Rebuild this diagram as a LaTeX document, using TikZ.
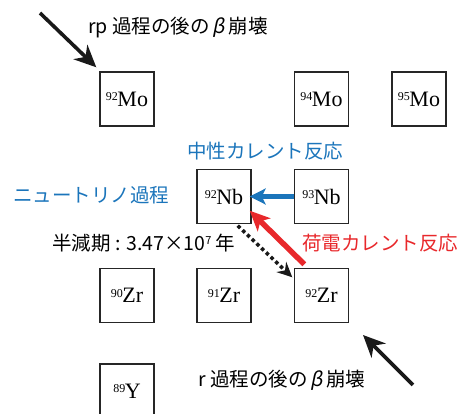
\documentclass[tikz,border=0pt]{standalone}
\usepackage{fontspec}
\setmainfont{Noto Sans CJK JP}
\newfontfamily\elfont{Liberation Serif}
\newfontfamily\betafont[FakeSlant=0.2]{Noto Sans CJK JP}
\usetikzlibrary{arrows.meta}
\definecolor{nublue}{HTML}{1B75BB}
\definecolor{nured}{HTML}{E8282B}
\tikzset{
  nuc/.style={draw=black!85, line width=1.4pt, minimum width=54pt, minimum height=54pt, inner sep=0pt, font=\elfont\fontsize{22}{22}\selectfont},
  lbl/.style={font=\fontsize{19.5}{20}\selectfont, inner sep=0pt},
  bigarrow/.style={line width=3.6pt, -{Stealth[length=22pt,width=20pt,inset=7pt]}},
}
\newcommand{\iso}[2]{\raisebox{0.55ex}{\fontsize{12}{12}\selectfont #1}\kern-0.5pt #2}
\begin{document}
\begin{tikzpicture}[x=1pt,y=-1pt]
\useasboundingbox (0,0) rectangle (475,414);
\clip (0,0) rectangle (475,414);
% nuclei
\node[nuc] (mo92) at (127,99) {\iso{92}{Mo}};
\node[nuc] (mo94) at (321.5,99) {\iso{94}{Mo}};
\node[nuc] (mo95) at (419,99) {\iso{95}{Mo}};
\node[nuc] (nb92) at (224,196.5) {\iso{92}{Nb}};
\node[nuc] (nb93) at (321.5,196.5) {\iso{93}{Nb}};
\node[nuc] (zr90) at (127,295.5) {\iso{90}{Zr}};
\node[nuc] (zr91) at (224,295.5) {\iso{91}{Zr}};
\node[nuc] (zr92) at (321.5,295.5) {\iso{92}{Zr}};
\node[nuc] (y89) at (127,391) {\iso{89}{Y}};
% labels
\node[lbl, anchor=west] (rp) at (88,28) {rp 過程の後の\,{\betafont β}\,崩壊};
\node[lbl, anchor=west, text=nublue] (nc) at (187,151) {中性カレント反応};
\node[lbl, anchor=west, text=nublue] (np) at (13,195) {ニュートリノ過程};
\node[lbl, anchor=west] (hl) at (52,243) {半減期 : 3.47×10\raisebox{0.6ex}{\fontsize{11}{11}\selectfont 7} 年};
\node[lbl, anchor=west, text=nured] (cc) at (302,243) {荷電カレント反応};
\node[lbl, anchor=west] (rr) at (198,380) {r 過程の後の\,{\betafont β}\,崩壊};
% free ends
\coordinate (rpstart) at (40,13);
\coordinate (rstart) at (413,385);
\coordinate (rend) at (363,335);
% arrows
\draw[bigarrow, black!90] (rpstart) -- ([shift={(-3,-4)}]mo92.north west);
\draw[bigarrow, black!90] (rstart) -- (rend);
\draw[line width=4.5pt, nublue, -{Stealth[length=16pt,width=16pt,inset=4pt]}] (nb93.west) -- ([shift={(-2,0)}]nb92.east);
\draw[line width=5.5pt, nured, -{Stealth[length=20pt,width=18pt,inset=5pt]}] ([shift={(10.5,-3.5)}]zr92.north west) -- ([shift={(-2,-13.5)}]nb92.south east);
\draw[line width=3.5pt, black!90, dash pattern=on 3.5pt off 3pt, -{Stealth[length=15pt,width=14pt,inset=5pt]}] ([shift={(-14,1.5)}]nb92.south east) -- ([shift={(-1.5,9.5)}]zr92.north west);
\end{tikzpicture}
\end{document}
